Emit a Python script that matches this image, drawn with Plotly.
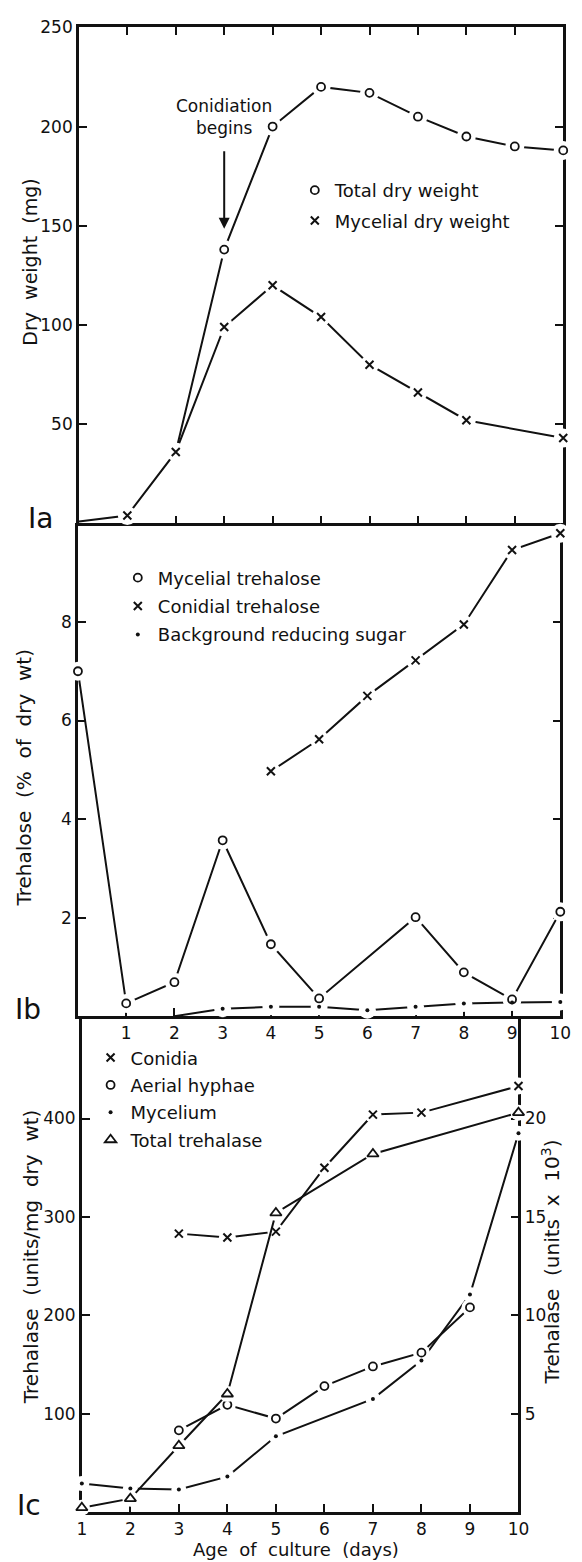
import plotly.graph_objects as go

W, H = 582, 1562
INK = "#111111"
FONT = "DejaVu Sans"

# ---------------- data ----------------
# Fig. 1a  dry weight (mg) vs age of culture (days)
days_a = [0, 1, 2, 3, 4, 5, 6, 7, 8, 9, 10]
total_dry_weight = [None, None, 36, 138, 200, 220, 217, 205, 195, 190, 188]
mycelial_dry_weight = [1, 4, 36, 99, 120, 104, 80, 66, 52, None, 43]

# Fig. 1b  trehalose (% of dry wt)
days_b = [0, 1, 2, 3, 4, 5, 6, 7, 8, 9, 10]
mycelial_trehalose = [7.0, 0.26, 0.69, 3.57, 1.46, 0.36, None, 2.01, 0.89, 0.34, 2.12]
conidial_trehalose = [None, None, None, None, 4.97, 5.62, 6.5, 7.22, 7.95, 9.46, 9.8]
background_sugar = [None, None, 0.0, 0.15, 0.19, 0.19, 0.12, 0.19, 0.26, 0.28, 0.29]

# Fig. 1c  trehalase
days_c = [1, 2, 3, 4, 5, 6, 7, 8, 9, 10]
conidia = [None, None, 283, 279, 285, 350, 404, 406, None, 433]            # units/mg dry wt
aerial_hyphae = [None, None, 83, 109, 95, 128, 148, 162, 208, None]       # units/mg dry wt
mycelium = [29, 24, 23, 36, 77, None, 115, 154, 221, 385]                 # units/mg dry wt
total_trehalase = [0.22, 0.68, 3.37, 6.0, 15.2, None, 18.2, None, None, 20.3]  # units x 10^3

# first day that carries a plotted symbol (earlier points are line only)
first_marked = {"total": 3, "mycelial_dw": 1, "background": 3}

# tick values
a_x_ticks = [1, 2, 3, 4, 5, 6, 7, 8, 9]
a_y_ticks = [50, 100, 150, 200, 250]
b_x_ticks = [1, 2, 3, 4, 5, 6, 7, 8, 9, 10]
b_y_ticks = [2, 4, 6, 8]
c_x_ticks = [1, 2, 3, 4, 5, 6, 7, 8, 9, 10]
c_y_ticks = [100, 200, 300, 400]
c_y2_ticks = [5, 10, 15, 20]


def px(x):
    return x / W


def py(y):
    return 1 - y / H


fig = go.Figure()
lines, halos, marks = [], [], []

SYM = {
    "o": dict(symbol="circle-open", size=8, line=dict(width=1.8, color=INK), color=INK),
    "x": dict(symbol="x-thin-open", size=8, line=dict(width=2, color=INK), color=INK),
    ".": dict(symbol="circle", size=4, color=INK, line=dict(width=0)),
    "^": dict(symbol="triangle-up-open", size=10, line=dict(width=1.8, color=INK), color=INK),
}


def series(x, y, xa, ya, name, sym, legend, mark_from=None, halo=19):
    lines.append(go.Scatter(x=x, y=y, mode="lines", connectgaps=True,
                            line=dict(color=INK, width=2), xaxis=xa, yaxis=ya,
                            showlegend=False, hoverinfo="skip"))
    pts = [(a, b) for a, b in zip(x, y)
           if b is not None and (mark_from is None or a >= mark_from)]
    mx = [p[0] for p in pts]
    my = [p[1] for p in pts]
    halos.append(go.Scatter(x=mx, y=my, mode="markers", xaxis=xa, yaxis=ya,
                            marker=dict(symbol="circle", size=halo, color="white",
                                        line=dict(width=0)),
                            cliponaxis=False, showlegend=False, hoverinfo="skip"))
    marks.append(go.Scatter(x=mx, y=my, mode="markers", xaxis=xa, yaxis=ya,
                            name=name, legend=legend, legendgroup=name,
                            marker=SYM[sym], cliponaxis=False))


# panel a
series(days_a, total_dry_weight, "x", "y", "Total dry weight", "o", "legend",
       first_marked["total"])
series(days_a, mycelial_dry_weight, "x", "y", "Mycelial dry weight", "x", "legend",
       first_marked["mycelial_dw"])
# panel b
series(days_b, mycelial_trehalose, "x2", "y2", "Mycelial trehalose", "o", "legend2")
series(days_b, conidial_trehalose, "x2", "y2", "Conidial trehalose", "x", "legend2")
series(days_b, background_sugar, "x2", "y2", "Background reducing sugar", ".", "legend2",
       first_marked["background"], halo=17)
# panel c
series(days_c, conidia, "x3", "y3", "Conidia", "x", "legend3", halo=17)
series(days_c, aerial_hyphae, "x3", "y3", "Aerial hyphae", "o", "legend3", halo=17)
series(days_c, mycelium, "x3", "y3", "Mycelium", ".", "legend3", halo=15)
series(days_c, total_trehalase, "x3", "y4", "Total trehalase", "^", "legend3", halo=16)

for t in lines + halos + marks:
    fig.add_trace(t)

tickfont = dict(family=FONT, size=17, color=INK)
common = dict(showline=True, linecolor=INK, linewidth=2.5, ticks="inside", ticklen=8,
              tickwidth=2, tickcolor=INK, showgrid=False, zeroline=False,
              layer="below traces", tickfont=tickfont, fixedrange=True)

# pixel frames of the three panels
A = dict(x0=76, x1=574, y0=17.5, y1=516.7)
B = dict(x0=75, x1=571, y0=516.7, y1=1012.7)
C = dict(x0=79, x1=528, y0=1012.7, y1=1511.7)

fig.update_layout(
    xaxis=dict(common, domain=[px(A["x0"]), px(A["x1"])], range=[0, 10], anchor="y",
               tickvals=a_x_ticks, showticklabels=False, mirror="ticks"),
    yaxis=dict(common, domain=[py(A["y1"]), py(A["y0"])], range=[0, 250], anchor="x",
               tickvals=a_y_ticks, mirror="ticks"),
    xaxis2=dict(common, domain=[px(B["x0"]), px(B["x1"])], range=[0, 10], anchor="y2",
                tickvals=b_x_ticks),
    yaxis2=dict(common, domain=[py(B["y1"]), py(B["y0"])], range=[0, 10], anchor="x2",
                tickvals=b_y_ticks, mirror="ticks"),
    xaxis3=dict(common, domain=[px(C["x0"]), px(C["x1"])], range=[1, 10], anchor="y3",
                tickvals=c_x_ticks),
    yaxis3=dict(common, domain=[py(C["y1"]), py(C["y0"])], range=[0, 504], anchor="x3",
                tickvals=c_y_ticks),
    yaxis4=dict(common, overlaying="y3", side="right", range=[0, 25.2], anchor="x3",
                tickvals=c_y2_ticks),
)

legfont = dict(family=FONT, size=18, color=INK)
legbase = dict(xanchor="left", yanchor="top", font=legfont, bgcolor="rgba(0,0,0,0)",
               borderwidth=0, traceorder="grouped", itemclick=False,
               itemdoubleclick=False)
fig.update_layout(
    legend=dict(legbase, x=px(298), y=py(163), tracegroupgap=4),
    legend2=dict(legbase, x=px(116), y=py(553), tracegroupgap=2),
    legend3=dict(legbase, x=px(88), y=py(1036), tracegroupgap=1),
)

NB = "\u00a0"
ann = []


def label(x, y, text, size=19, angle=0, yanchor="middle"):
    ann.append(dict(x=px(x), y=py(y), xref="paper", yref="paper", text=text,
                    showarrow=False, textangle=angle, xanchor="center", yanchor=yanchor,
                    borderpad=0, font=dict(family=FONT, size=size, color=INK)))


label(26, 254, "Dry" + NB * 2 + "weight" + NB * 2 + "(mg)", 19, -90)
label(20, 772, "Trehalose" + NB * 2 + "(%" + NB * 2 + "of" + NB * 2 + "dry" + NB * 2 + "wt)", 20, -90)
label(27, 1255, "Trehalase" + NB * 2 + "(units/mg" + NB * 2 + "dry" + NB * 2 + "wt)", 20, -90)
label(561, 1260, "Trehalase" + NB * 2 + "(units" + NB * 2 + "x" + NB * 2 + "10<sup>3</sup>)", 20, -90)
label(299, 1549, "Age" + NB * 2 + "of" + NB * 2 + "culture" + NB * 2 + "(days)", 18)
label(37, 512, "Ia", 28)
label(24, 1006, "Ib", 28)
label(25, 1505, "Ic", 28)

# "Conidiation begins" with its arrow pointing at day 3
ann.append(dict(x=3, y=148.5, xref="x", yref="y", text="Conidiation<br>begins",
                showarrow=True, ax=0, ay=-112, arrowhead=2, arrowsize=1.1, arrowwidth=2,
                arrowcolor=INK, startstandoff=12,
                font=dict(family=FONT, size=17, color=INK)))

fig.update_layout(annotations=ann, width=W, height=H, autosize=False,
                  margin=dict(l=0, r=0, t=0, b=0),
                  paper_bgcolor="white", plot_bgcolor="white",
                  font=dict(family=FONT, color=INK))

# page body without its default 8px margin so the 582x1562 figure fills the window
fig.write_html("out.html", config={"displayModeBar": False},
               post_script="document.body.style.margin='0';")
